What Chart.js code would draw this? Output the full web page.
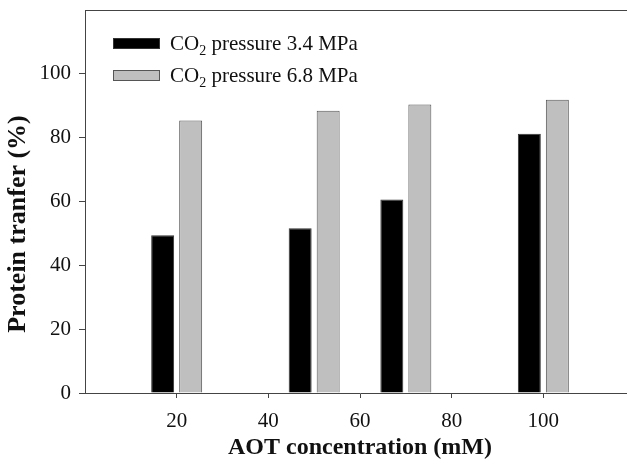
<!DOCTYPE html>
<html>
<head>
<meta charset="utf-8">
<script src="https://cdn.jsdelivr.net/npm/chart.js@4/dist/chart.umd.min.js"></script>
<style>
  body { margin: 0; background: #fff; overflow: hidden; }
  #wrap { width: 660px; height: 472px; }
</style>
</head>
<body>
<div id="wrap"><canvas id="barChart"></canvas></div>
<script>
// AOT concentration (mM) for each bar group
const aotConc = [20, 50, 70, 100];
// protein transfer (%) at each CO2 pressure
const transfer34 = [49.4, 51.6, 60.6, 81.2];
const transfer68 = [85.4, 88.4, 90.4, 91.9];
const seriesLabels = ['CO₂ pressure 3.4 MPa', 'CO₂ pressure 6.8 MPa'];
const xTicks = [20, 40, 60, 80, 100];
const yTicks = [0, 20, 40, 60, 80, 100];
const yTitle = 'Protein tranfer (%)';

const serif = "'Liberation Serif', 'Times New Roman', serif";
Chart.defaults.font.family = serif;
Chart.defaults.color = '#111';

// legend drawn inside the plot, top left, with a real subscript
const insideLegend = {
    id: 'insideLegend',
    afterDraw(chart) {
        const { ctx, chartArea } = chart;
        ctx.save();
        chart.data.datasets.forEach((ds, i) => {
            const bx = chartArea.left + 28;
            const by = chartArea.top + 28 + i * 32;
            ctx.fillStyle = ds.backgroundColor;
            ctx.fillRect(bx, by, 47, 11);
            ctx.strokeStyle = ds.borderColor;
            ctx.lineWidth = 1;
            ctx.strokeRect(bx + 0.5, by + 0.5, 46, 10);

            const parts = ds.label.split('₂');
            const base = by + 12;
            let tx = bx + 57;
            ctx.fillStyle = '#111';
            ctx.textBaseline = 'alphabetic';
            ctx.font = '21px ' + serif;
            ctx.fillText(parts[0], tx, base);
            tx += ctx.measureText(parts[0]).width;
            ctx.font = '14px ' + serif;
            ctx.fillText('2', tx, base + 5);
            tx += ctx.measureText('2').width;
            ctx.font = '21px ' + serif;
            ctx.fillText(parts[1], tx, base);
        });
        ctx.restore();
    }
};

// top edge of the frame + y title (sits lower than centre in the original)
const frameAndTitle = {
    id: 'frameAndTitle',
    afterDraw(chart) {
        const { ctx, chartArea } = chart;
        ctx.save();
        ctx.strokeStyle = '#444';
        ctx.lineWidth = 1;
        ctx.beginPath();
        ctx.moveTo(chartArea.left, chartArea.top + 0.5);
        ctx.lineTo(chartArea.right, chartArea.top + 0.5);
        ctx.stroke();

        ctx.translate(18, chartArea.bottom - 169);
        ctx.rotate(-Math.PI / 2);
        ctx.font = 'bold 26px ' + serif;
        ctx.fillStyle = '#111';
        ctx.textAlign = 'center';
        ctx.textBaseline = 'middle';
        ctx.fillText(yTitle, 0, 0);
        ctx.restore();
    }
};

const noPad = s => { s.paddingTop = 0; s.paddingBottom = 0; s.paddingLeft = 0; s.paddingRight = 0; };

const ctx = document.getElementById('barChart').getContext('2d');
new Chart(ctx, {
    type: 'bar',
    data: {
        datasets: [{
            label: seriesLabels[0],
            data: aotConc.map((x, i) => ({ x: x, y: transfer34[i] })),
            backgroundColor: '#000000',
            borderColor: '#333333',
            borderWidth: 1
        }, {
            label: seriesLabels[1],
            data: aotConc.map((x, i) => ({ x: x, y: transfer68[i] })),
            backgroundColor: '#bfbfbf',
            borderColor: '#555555',
            borderWidth: 1
        }]
    },
    options: {
        responsive: true,
        maintainAspectRatio: false,
        animation: false,
        categoryPercentage: 0.611,
        barPercentage: 0.82,
        layout: { padding: { left: 2, top: 10, right: 25, bottom: 0 } },
        plugins: {
            legend: { display: false },
            tooltip: { enabled: false }
        },
        scales: {
            x: {
                type: 'linear',
                min: 0,
                max: 120,
                offset: false,
                afterBuildTicks: s => { s.ticks = xTicks.map(v => ({ value: v })); },
                afterFit: s => { s.height = 79; noPad(s); },
                ticks: { padding: 11, font: { size: 21 }, maxRotation: 0 },
                grid: { drawOnChartArea: false, tickLength: 5, color: '#444', offset: false },
                border: { color: '#444' },
                title: {
                    display: true,
                    text: 'AOT concentration (mM)',
                    font: { size: 24, weight: 'bold' },
                    padding: { top: 0, bottom: 10 }
                }
            },
            y: {
                min: 0,
                max: 120,
                afterBuildTicks: s => { s.ticks = yTicks.map(v => ({ value: v })); },
                afterFit: s => { s.width = 83; noPad(s); },
                ticks: { padding: 8, font: { size: 21 } },
                grid: { drawOnChartArea: false, tickLength: 6, color: '#444' },
                border: { color: '#444' },
                title: { display: false }
            }
        }
    },
    plugins: [insideLegend, frameAndTitle]
});
</script>
</body>
</html>
